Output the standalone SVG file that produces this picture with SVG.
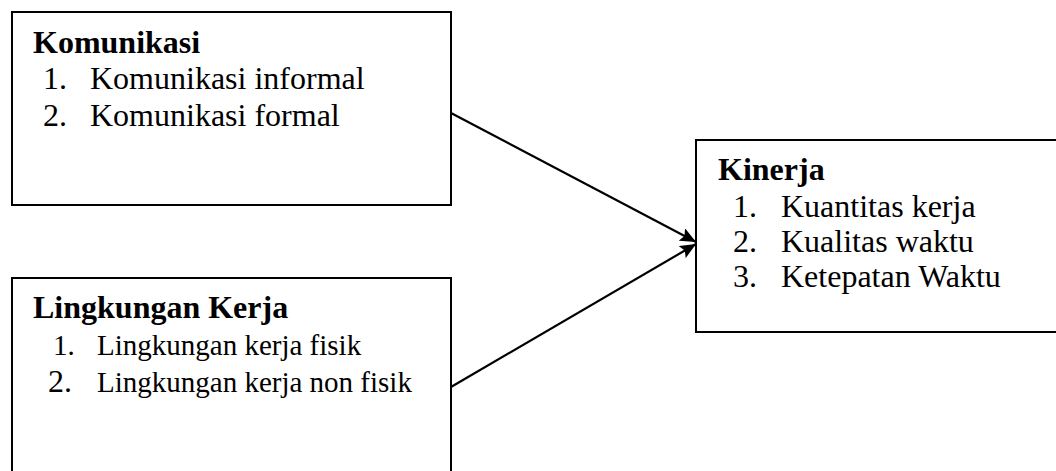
<svg xmlns="http://www.w3.org/2000/svg" width="1056" height="471" viewBox="0 0 1056 471">
<defs>
<style>
.box{fill:#fff;stroke:#000;stroke-width:2}
.t{font-family:"Liberation Serif","Times New Roman",serif;font-size:32px;fill:#000}
.s{font-size:29px}
.b{font-weight:bold}
.c{stroke:#000;stroke-width:2.2;fill:none}
</style>
<marker id="ah" markerWidth="16" markerHeight="14" refX="16" refY="7" orient="auto" markerUnits="userSpaceOnUse" viewBox="0 0 16 14">
<path d="M0,0 L16,7 L0,14 L3,7 z" fill="#000"/>
</marker>
</defs>
<rect width="1056" height="471" fill="#fff"/>
<g id="connectors">
<line class="c" x1="451" y1="113" x2="696" y2="242" marker-end="url(#ah)"/>
<line class="c" x1="451" y1="387" x2="696" y2="244" marker-end="url(#ah)"/>
</g>
<g id="komunikasi">
<rect class="box" x="12" y="12" width="439" height="193"/>
<text class="t b" x="33" y="53">Komunikasi</text>
<text class="t" x="43" y="89">1.</text>
<text class="t" x="90" y="89">Komunikasi informal</text>
<text class="t" x="43" y="126">2.</text>
<text class="t" x="90" y="126">Komunikasi formal</text>
</g>
<g id="lingkungan">
<rect class="box" x="12" y="278" width="439" height="200"/>
<text class="t b" x="33" y="318">Lingkungan Kerja</text>
<text class="t s" x="53" y="355">1.</text>
<text class="t s" x="97" y="355">Lingkungan kerja fisik</text>
<text class="t" x="48" y="392">2.</text>
<text class="t s" x="97" y="392">Lingkungan kerja non fisik</text>
</g>
<g id="kinerja">
<rect class="box" x="696" y="140" width="370" height="192"/>
<text class="t b" x="718" y="180">Kinerja</text>
<text class="t" x="733" y="217">1.</text>
<text class="t" x="781" y="217">Kuantitas kerja</text>
<text class="t" x="733" y="252">2.</text>
<text class="t" x="781" y="252">Kualitas waktu</text>
<text class="t" x="733" y="287">3.</text>
<text class="t" x="781" y="287">Ketepatan Waktu</text>
</g>
</svg>
